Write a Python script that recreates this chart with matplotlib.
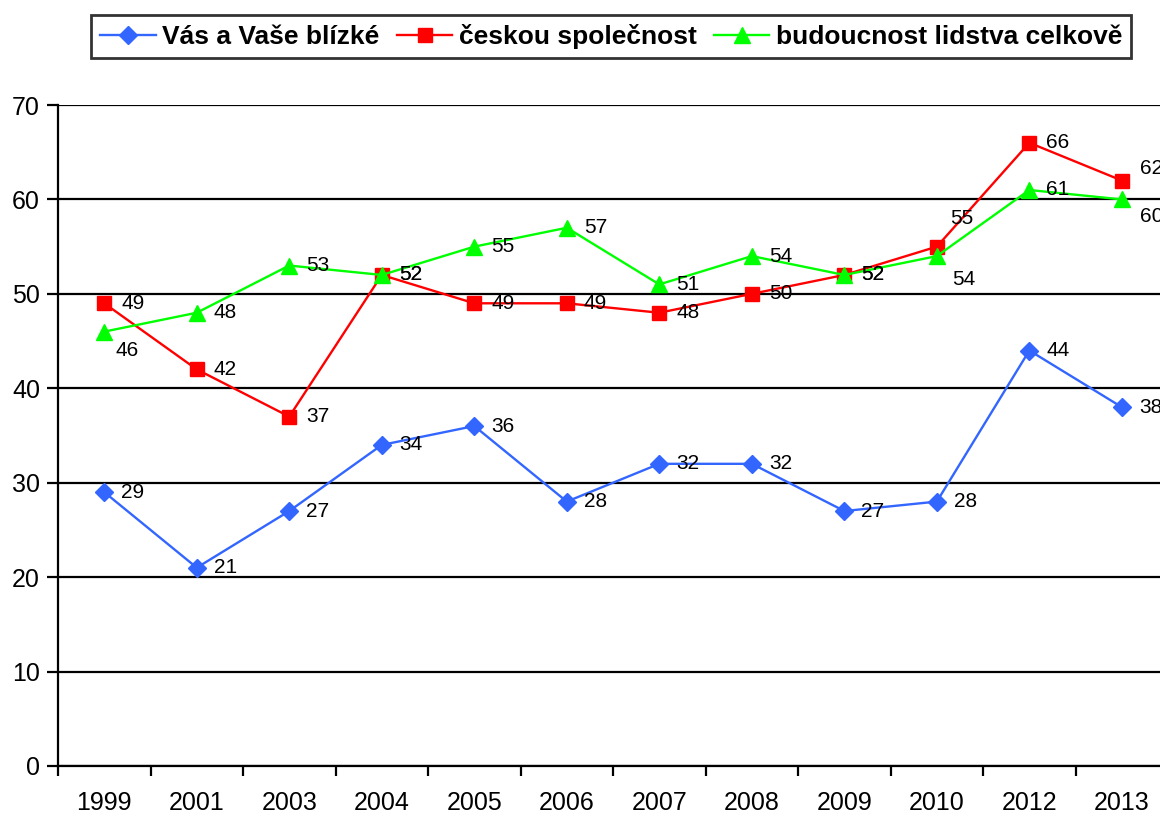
import matplotlib.pyplot as plt
import numpy as np

plt.rcParams['font.family'] = ['Liberation Sans', 'DejaVu Sans']

years = ['1999', '2001', '2003', '2004', '2005', '2006', '2007', '2008', '2009', '2010', '2012', '2013']
blue_vals = [29, 21, 27, 34, 36, 28, 32, 32, 27, 28, 44, 38]
red_vals = [49, 42, 37, 52, 49, 49, 48, 50, 52, 55, 66, 62]
green_vals = [46, 48, 53, 52, 55, 57, 51, 54, 52, 54, 61, 60]
names = ['Vás a Vaše blízké', 'českou společnost', 'budoucnost lidstva celkově']

# posuny popisku (pixely), vychozi je vpravo
red_off = {9: (13, 28), 11: (18, 12)}
green_off = {0: (11, -19), 9: (15, -23), 11: (18, -17)}

fig = plt.figure(figsize=(11.6, 8.14), dpi=100)
ax = fig.add_axes([0.05, 0.059, 0.957, 0.812])

x = np.arange(len(years))
series = [
    (blue_vals, '#3366FF', 'D', 9, {}),
    (red_vals, '#FF0000', 's', 10, red_off),
    (green_vals, '#00FF00', '^', 11, green_off),
]
for (vals, col, mk, ms, offs), name in zip(series, names):
    ax.plot(x, vals, color=col, marker=mk, markersize=ms, lw=1.7, label=name, zorder=3)
    for i, v in enumerate(vals):
        dx, dy = offs.get(i, (17, 0))
        ax.annotate(str(v), (x[i], v), xytext=(dx, dy), textcoords='offset pixels',
                    ha='left', va='center', fontsize=15, zorder=4)

ax.set_xlim(-0.5, len(years) - 0.5)
ax.set_ylim(0, 70)
ax.set_yticks(range(0, 71, 10))
ax.yaxis.grid(True, color='black', lw=1.6)
ax.set_axisbelow(True)

ax.set_xticks(x)
ax.set_xticklabels(years)
ax.set_xticks(np.arange(-0.5, len(years), 1), minor=True)
ax.tick_params(axis='x', which='major', length=0, pad=18, labelsize=18)
ax.tick_params(axis='x', which='minor', length=7, width=1.6, direction='out')
ax.tick_params(axis='y', length=8, width=1.6, labelsize=18, pad=5)

for s in ['top', 'right']:
    ax.spines[s].set_visible(False)
for s in ['left', 'bottom']:
    ax.spines[s].set_linewidth(1.6)

leg = fig.legend(loc='center', bbox_to_anchor=(0.527, 0.955), ncol=3, frameon=True,
                 fancybox=False, edgecolor='black', prop={'weight': 'bold', 'size': 19},
                 handlelength=2.1, handletextpad=0.25, columnspacing=0.65, borderpad=0.35)
leg.get_frame().set_linewidth(2)

fig.savefig('out.png', dpi=100)
